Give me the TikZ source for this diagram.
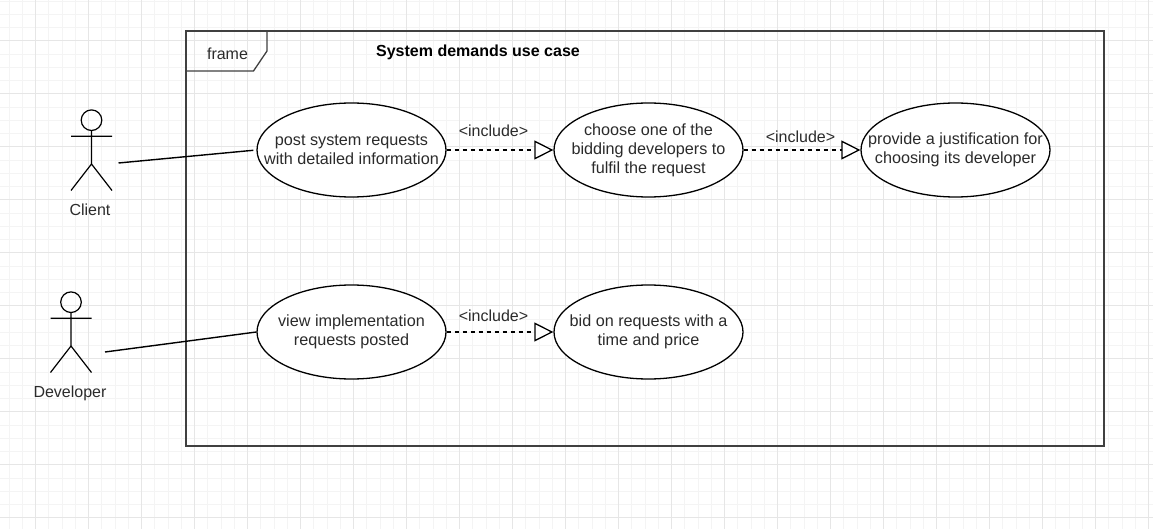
\documentclass[tikz,border=0pt]{standalone}
\usepackage{fontspec}
\setmainfont{Liberation Sans}
\usetikzlibrary{arrows.meta,shapes.geometric}
\definecolor{gridminor}{HTML}{F4F4F4}
\definecolor{gridmajor}{HTML}{E6E6E6}
\definecolor{labeltext}{HTML}{2B2B2B}
\definecolor{framecolor}{HTML}{404040}
\tikzset{
    usecase/.style={draw=black,fill=white,ellipse,line width=1.3pt,minimum width=189pt,minimum height=94pt,
        inner xsep=-30pt,inner ysep=-10pt,align=center,text=labeltext,font=\fontsize{16.2}{19}\selectfont},
    plaintext/.style={inner sep=0pt,text=labeltext,font=\fontsize{16}{19}\selectfont},
    include/.style={line width=1.2pt,dash pattern=on 4pt off 4pt,-{Triangle[open,fill=white,length=19pt,width=19pt,line width=1.3pt]}},
    assoc/.style={line width=1.4pt,black},
    actor/.pic={
        \draw[line width=1.2pt] (0,-10.3) circle (10.3);
        \draw[line width=1.2pt] (0,0) -- (0,33.5) (-20.5,5.7) -- (20.5,5.7)
            (-20.5,60) -- (0,33.5) -- (20.5,60);
    }
}
\begin{document}
\begin{tikzpicture}[x=1pt,y=-1pt]
    \useasboundingbox (0,0) rectangle (1153,529);
    \fill[white] (0,0) rectangle (1153,529);

    % grid
    \foreach \k in {0,...,87} {
        \draw[gridminor,line width=0.8pt] ({9+13.25*\k},0) -- ({9+13.25*\k},529);
    }
    \foreach \k in {0,...,40} {
        \draw[gridminor,line width=0.8pt] (0,{1+13.25*\k}) -- (1153,{1+13.25*\k});
    }
    \foreach \k in {0,...,21} {
        \draw[gridmajor,line width=0.8pt] ({35.5+53*\k},0) -- ({35.5+53*\k},529);
    }
    \foreach \k in {-1,...,9} {
        \draw[gridmajor,line width=0.8pt] (0,{40.5+53*\k}) -- (1153,{40.5+53*\k});
    }

    % frame
    \draw[framecolor,line width=1.6pt] (186,31) rectangle (1104,446);
    \draw[framecolor,line width=1.3pt] (186,71) -- (253.5,71) -- (267,51) -- (267,31);
    \node[plaintext] (frametag) at (227.5,53.5) {frame};
    \node[plaintext,text=black,font=\fontsize{16}{19}\selectfont\bfseries] (frametitle) at (478,52) {System demands use case};

    % actors
    \pic at (91.5,130.5) {actor};
    \coordinate (clientend) at (118.5,163);
    \node[plaintext] (client) at (90,209.5) {Client};

    \pic at (71,312.5) {actor};
    \coordinate (developerend) at (105,352);
    \node[plaintext] (developer) at (70,393) {Developer};

    % use cases
    \node[usecase] (postreq) at (351.5,150) {post system requests\\with detailed information};
    \node[usecase] (choose) at (648.5,150) {choose one of the\\bidding developers to\\fulfil the request};
    \node[usecase] (justify) at (955.5,150) {provide a justification for\\choosing its developer};
    \node[usecase] (viewreq) at (351.5,332) {view implementation\\requests posted};
    \node[usecase] (bid) at (648.5,332) {bid on requests with a\\time and price};

    % connectors
    \draw[assoc,shorten >=3pt] (clientend) -- (postreq.west);
    \draw[assoc] (developerend) -- (viewreq.west);
    \draw[include] (postreq) -- (choose);
    \draw[include] (choose) -- (justify);
    \draw[include] (viewreq) -- (bid);

    \node[plaintext] (include1) at (493.5,131) {<include>};
    \node[plaintext] (include2) at (800.5,137) {<include>};
    \node[plaintext] (include3) at (493.5,316) {<include>};
\end{tikzpicture}
\end{document}
